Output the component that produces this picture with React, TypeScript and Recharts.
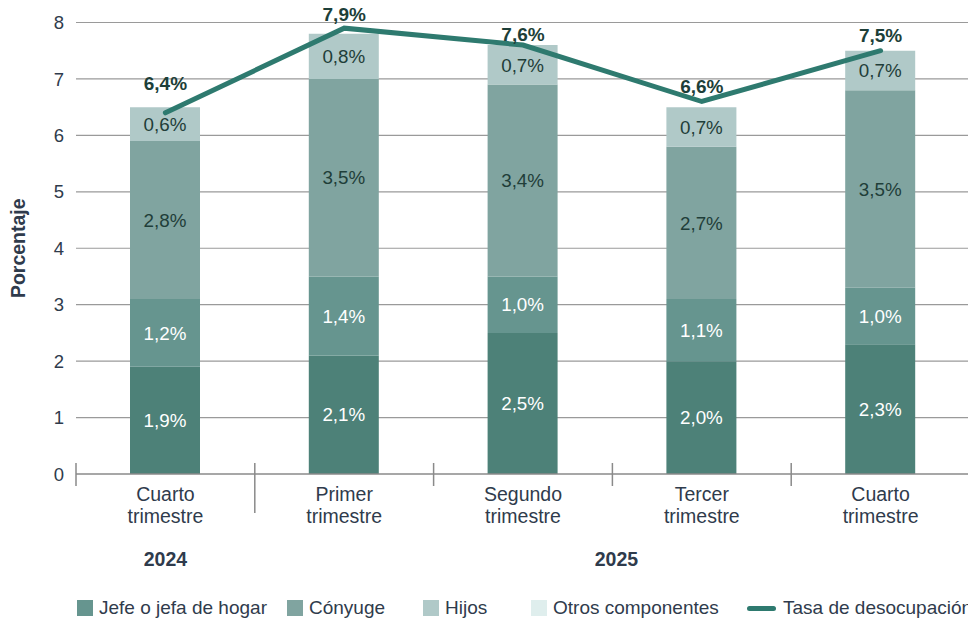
import React from 'react';
import { ComposedChart, Bar, Line, XAxis, YAxis, CartesianGrid, LabelList, ReferenceLine } from 'recharts';

const categories = ['IV-2024', 'I-2025', 'II-2025', 'III-2025', 'IV-2025'];
const tickTop = ['Cuarto', 'Primer', 'Segundo', 'Tercer', 'Cuarto'];
const tickBottom = ['trimestre', 'trimestre', 'trimestre', 'trimestre', 'trimestre'];
const jefe = [1.9, 2.1, 2.5, 2.0, 2.3];
const conyuge = [1.2, 1.4, 1.0, 1.1, 1.0];
const hijos = [2.8, 3.5, 3.4, 2.7, 3.5];
const otros = [0.6, 0.8, 0.7, 0.7, 0.7];
const tasa = [6.4, 7.9, 7.6, 6.6, 7.5];
const yTicks = [0, 1, 2, 3, 4, 5, 6, 7, 8];
const yearLabels = ['2024', '2025'];
const yearFirst = [0, 1];
const yearLast = [0, 4];

const data = categories.map((c, i) => ({
  cat: c,
  jefe: jefe[i],
  conyuge: conyuge[i],
  hijos: hijos[i],
  otros: otros[i],
  tasa: tasa[i],
}));

const W = 968;
const H = 623;
const LEFT = 76;
const RIGHT_MARGIN = -2;
const PLOT_W = W - LEFT - RIGHT_MARGIN;
const BAND = PLOT_W / categories.length;
const TEXT = '#2f3b4c';
const FONT = '"Liberation Sans", Arial, Helvetica, sans-serif';
const lineLabelOffsets = [30, 14, 11, 16, 16];

const fmt = (v: any) => Number(v).toFixed(1).replace('.', ',') + '%';

const XTick = (props: any) => {
  const { x, index } = props;
  const axisY = 474;
  const yi = yearFirst.indexOf(index);
  let yearX = x;
  if (yi >= 0) {
    yearX = x + ((yearLast[yi] - yearFirst[yi]) * BAND) / 2 + (yearLast[yi] > yearFirst[yi] ? 4 : 0);
  }
  return (
    <g>
      <text x={x} y={axisY + 27} textAnchor="middle" fontSize={19.5} fill={TEXT} fontFamily={FONT}>
        {tickTop[index]}
      </text>
      <text x={x} y={axisY + 49} textAnchor="middle" fontSize={19.5} fill={TEXT} fontFamily={FONT}>
        {tickBottom[index]}
      </text>
      {yi >= 0 && (
        <text x={yearX} y={axisY + 92} textAnchor="middle" fontSize={19.5} fontWeight="bold" fill={TEXT} fontFamily={FONT}>
          {yearLabels[yi]}
        </text>
      )}
    </g>
  );
};

const boundaryShape = (long: boolean) => (props: any) => {
  const { x1, y1, y2 } = props;
  const bottom = Math.max(y1, y2);
  return <line x1={x1} x2={x1} y1={bottom - 11} y2={bottom + (long ? 39 : 12)} stroke="#8a8a8a" strokeWidth={1.5} />;
};

const LineLabel = (props: any) => {
  const { x, y, value, index } = props;
  return (
    <text x={x} y={y - lineLabelOffsets[index] + 7} textAnchor="middle" fontSize={19} fontWeight="bold" fill="#1d3f39" fontFamily={FONT}>
      {fmt(value)}
    </text>
  );
};

const legendItems = [
  { label: 'Jefe o jefa de hogar', color: '#66958f', x: 77, type: 'box' },
  { label: 'Cónyuge', color: '#80a4a0', x: 287, type: 'box' },
  { label: 'Hijos', color: '#b0c9c8', x: 423, type: 'box' },
  { label: 'Otros componentes', color: '#dfeeed', x: 531, type: 'box' },
  { label: 'Tasa de desocupación', color: '#2e7a6f', x: 747, type: 'line' },
];

export default function App() {
  return (
    <div style={{ position: 'absolute', left: 0, top: 0, width: W, height: H, overflow: 'hidden', background: '#fff', fontFamily: FONT }}>
      <ComposedChart
        width={W}
        height={H}
        data={data}
        margin={{ top: 22.5, right: RIGHT_MARGIN, bottom: 0, left: 0 }}
        style={{ overflow: 'visible' }}
      >
        <CartesianGrid vertical={false} stroke="#9a9a9a" strokeWidth={1.2} horizontalValues={[1, 2, 3, 4, 5, 6, 7, 8]} />
        <XAxis
          dataKey="cat"
          height={149}
          axisLine={{ stroke: '#8a8a8a', strokeWidth: 1.5 }}
          tickLine={false}
          tick={<XTick />}
          interval={0}
        />
        <YAxis
          width={LEFT}
          domain={[0, 8]}
          ticks={yTicks}
          axisLine={false}
          tickLine={false}
          tickMargin={6}
          tick={{ fontSize: 18.5, fill: TEXT, fontFamily: FONT }}
          label={(p: any) => {
            const vb = p.viewBox || {};
            const cx = 18;
            const cy = (vb.y ?? 22.5) + (vb.height ?? 451.5) / 2;
            return (
              <text x={cx} y={cy} transform={`rotate(-90 ${cx} ${cy})`} textAnchor="middle" dominantBaseline="central" fontSize={19.5} fontWeight="bold" fill={TEXT} fontFamily={FONT}>
                Porcentaje
              </text>
            );
          }}
        />
        <Bar dataKey="jefe" name="Jefe o jefa de hogar" stackId="a" fill="#4d8178" barSize={70} isAnimationActive={false}>
          <LabelList dataKey="jefe" position="center" formatter={fmt} fill="#ffffff" fontSize={18.8} fontFamily={FONT} />
        </Bar>
        <Bar dataKey="conyuge" name="Cónyuge" stackId="a" fill="#66958f" barSize={70} isAnimationActive={false}>
          <LabelList dataKey="conyuge" position="center" formatter={fmt} fill="#ffffff" fontSize={18.8} fontFamily={FONT} />
        </Bar>
        <Bar dataKey="hijos" name="Hijos" stackId="a" fill="#80a4a0" barSize={70} isAnimationActive={false}>
          <LabelList dataKey="hijos" position="center" formatter={fmt} fill="#1f3e39" fontSize={18.8} fontFamily={FONT} />
        </Bar>
        <Bar dataKey="otros" name="Otros componentes" stackId="a" fill="#b0c9c8" barSize={70} isAnimationActive={false}>
          <LabelList dataKey="otros" position="center" formatter={fmt} fill="#1f3e39" fontSize={18.8} fontFamily={FONT} />
        </Bar>
        <Line
          dataKey="tasa"
          name="Tasa de desocupación"
          type="linear"
          stroke="#2e7a6f"
          strokeWidth={5}
          strokeLinecap="round"
          dot={false}
          activeDot={false}
          isAnimationActive={false}
        >
          <LabelList dataKey="tasa" content={<LineLabel />} />
        </Line>
        <ReferenceLine x={categories[0]} position="start" shape={boundaryShape(false)} ifOverflow="visible" />
        <ReferenceLine x={categories[1]} position="start" shape={boundaryShape(true)} ifOverflow="visible" />
        <ReferenceLine x={categories[2]} position="start" shape={boundaryShape(false)} ifOverflow="visible" />
        <ReferenceLine x={categories[3]} position="start" shape={boundaryShape(false)} ifOverflow="visible" />
        <ReferenceLine x={categories[4]} position="start" shape={boundaryShape(false)} ifOverflow="visible" />
      </ComposedChart>
      {legendItems.map((it) => (
        <div key={it.label} style={{ position: 'absolute', left: it.x, top: 596, height: 24, display: 'flex', alignItems: 'center', whiteSpace: 'nowrap' }}>
          {it.type === 'box' ? (
            <span style={{ display: 'inline-block', width: 16, height: 16, background: it.color, marginRight: 6 }} />
          ) : (
            <span style={{ display: 'inline-block', width: 29, height: 5, borderRadius: 3, background: it.color, marginRight: 7 }} />
          )}
          <span style={{ fontSize: 19, color: TEXT, fontFamily: FONT }}>{it.label}</span>
        </div>
      ))}
    </div>
  );
}
